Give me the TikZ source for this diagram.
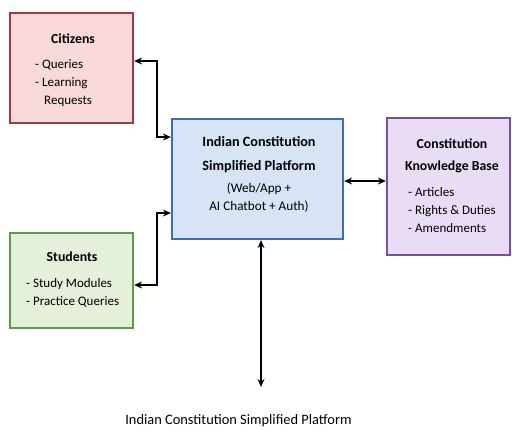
\documentclass[tikz,border=0pt]{standalone}
\usepackage{fontspec}
\setmainfont{Carlito}
\usetikzlibrary{arrows.meta}
\definecolor{citfill}{HTML}{F9D9DA}
\definecolor{citdraw}{HTML}{A23A3F}
\definecolor{stufill}{HTML}{E4F0DA}
\definecolor{studraw}{HTML}{5F9B4C}
\definecolor{platfill}{HTML}{D6E4F6}
\definecolor{platdraw}{HTML}{3B6DB8}
\definecolor{kbfill}{HTML}{E8DDF5}
\definecolor{kbdraw}{HTML}{7A4F9E}
\tikzset{
  box/.style={draw, line width=2.2pt, inner sep=0pt},
  ttl/.style={font=\fontsize{13.8}{16}\selectfont\bfseries, align=center, inner sep=0pt},
  itm/.style={font=\fontsize{13}{18}\selectfont, align=left, inner sep=0pt, anchor=west},
  ctr/.style={font=\fontsize{13.2}{18}\selectfont, align=center, inner sep=0pt},
  link/.style={line width=1.6pt, {Stealth[length=8pt,width=7pt]}-{Stealth[length=8pt,width=7pt]}}
}
\begin{document}
\begin{tikzpicture}[x=1pt,y=-1pt]
\useasboundingbox (0,0) rectangle (512,429);
% boxes
\node[box, fill=citfill, draw=citdraw, minimum width=123pt, minimum height=110pt] (cit) at (71.5,68) {};
\node[box, fill=stufill, draw=studraw, minimum width=123pt, minimum height=95pt] (stu) at (71.5,280.5) {};
\node[box, fill=platfill, draw=platdraw, minimum width=171pt, minimum height=120pt] (plat) at (257.5,179) {};
\node[box, fill=kbfill, draw=kbdraw, minimum width=123pt, minimum height=137pt] (kb) at (448.5,186.5) {};
% texts
\node[ttl] (citt) at (73,39) {Citizens};
\node[itm] (citi) at (35,83) {- Queries\\- Learning\\\hspace*{9pt}Requests};
\node[ttl] (stut) at (72,257) {Students};
\node[itm] (stui) at (26,292.5) {- Study Modules\\- Practice Queries};
\node[ctr, font=\fontsize{14.2}{24}\selectfont\bfseries] (platt) at (259,155) {Indian Constitution\\Simplified Platform};
\node[ctr] (plats) at (259,198) {(Web/App +\\AI Chatbot + Auth)};
\node[ctr, font=\fontsize{13.8}{22}\selectfont\bfseries] (kbt) at (452,156) {Constitution\\Knowledge Base};
\node[itm] (kbi) at (408,210) {- Articles\\- Rights \& Duties\\- Amendments};
\node[ctr, font=\fontsize{14.4}{18}\selectfont] (bot) at (238.5,421) {Indian Constitution Simplified Platform};
% connectors
\coordinate (jc) at (157,100);
\coordinate (js) at (157,250);
\coordinate (bend) at (261,387);
\draw[link] ([yshift=7pt]cit.east) -| (jc) |- ([yshift=42pt]plat.west);
\draw[link] ([yshift=-34pt]plat.west) -| (js) |- ([yshift=-4.5pt]stu.east);
\draw[link] ([yshift=-2pt]plat.east) -- ([yshift=5.5pt]kb.west);
\draw[link] ([xshift=3.5pt]plat.south) -- (bend);
\end{tikzpicture}
\end{document}
